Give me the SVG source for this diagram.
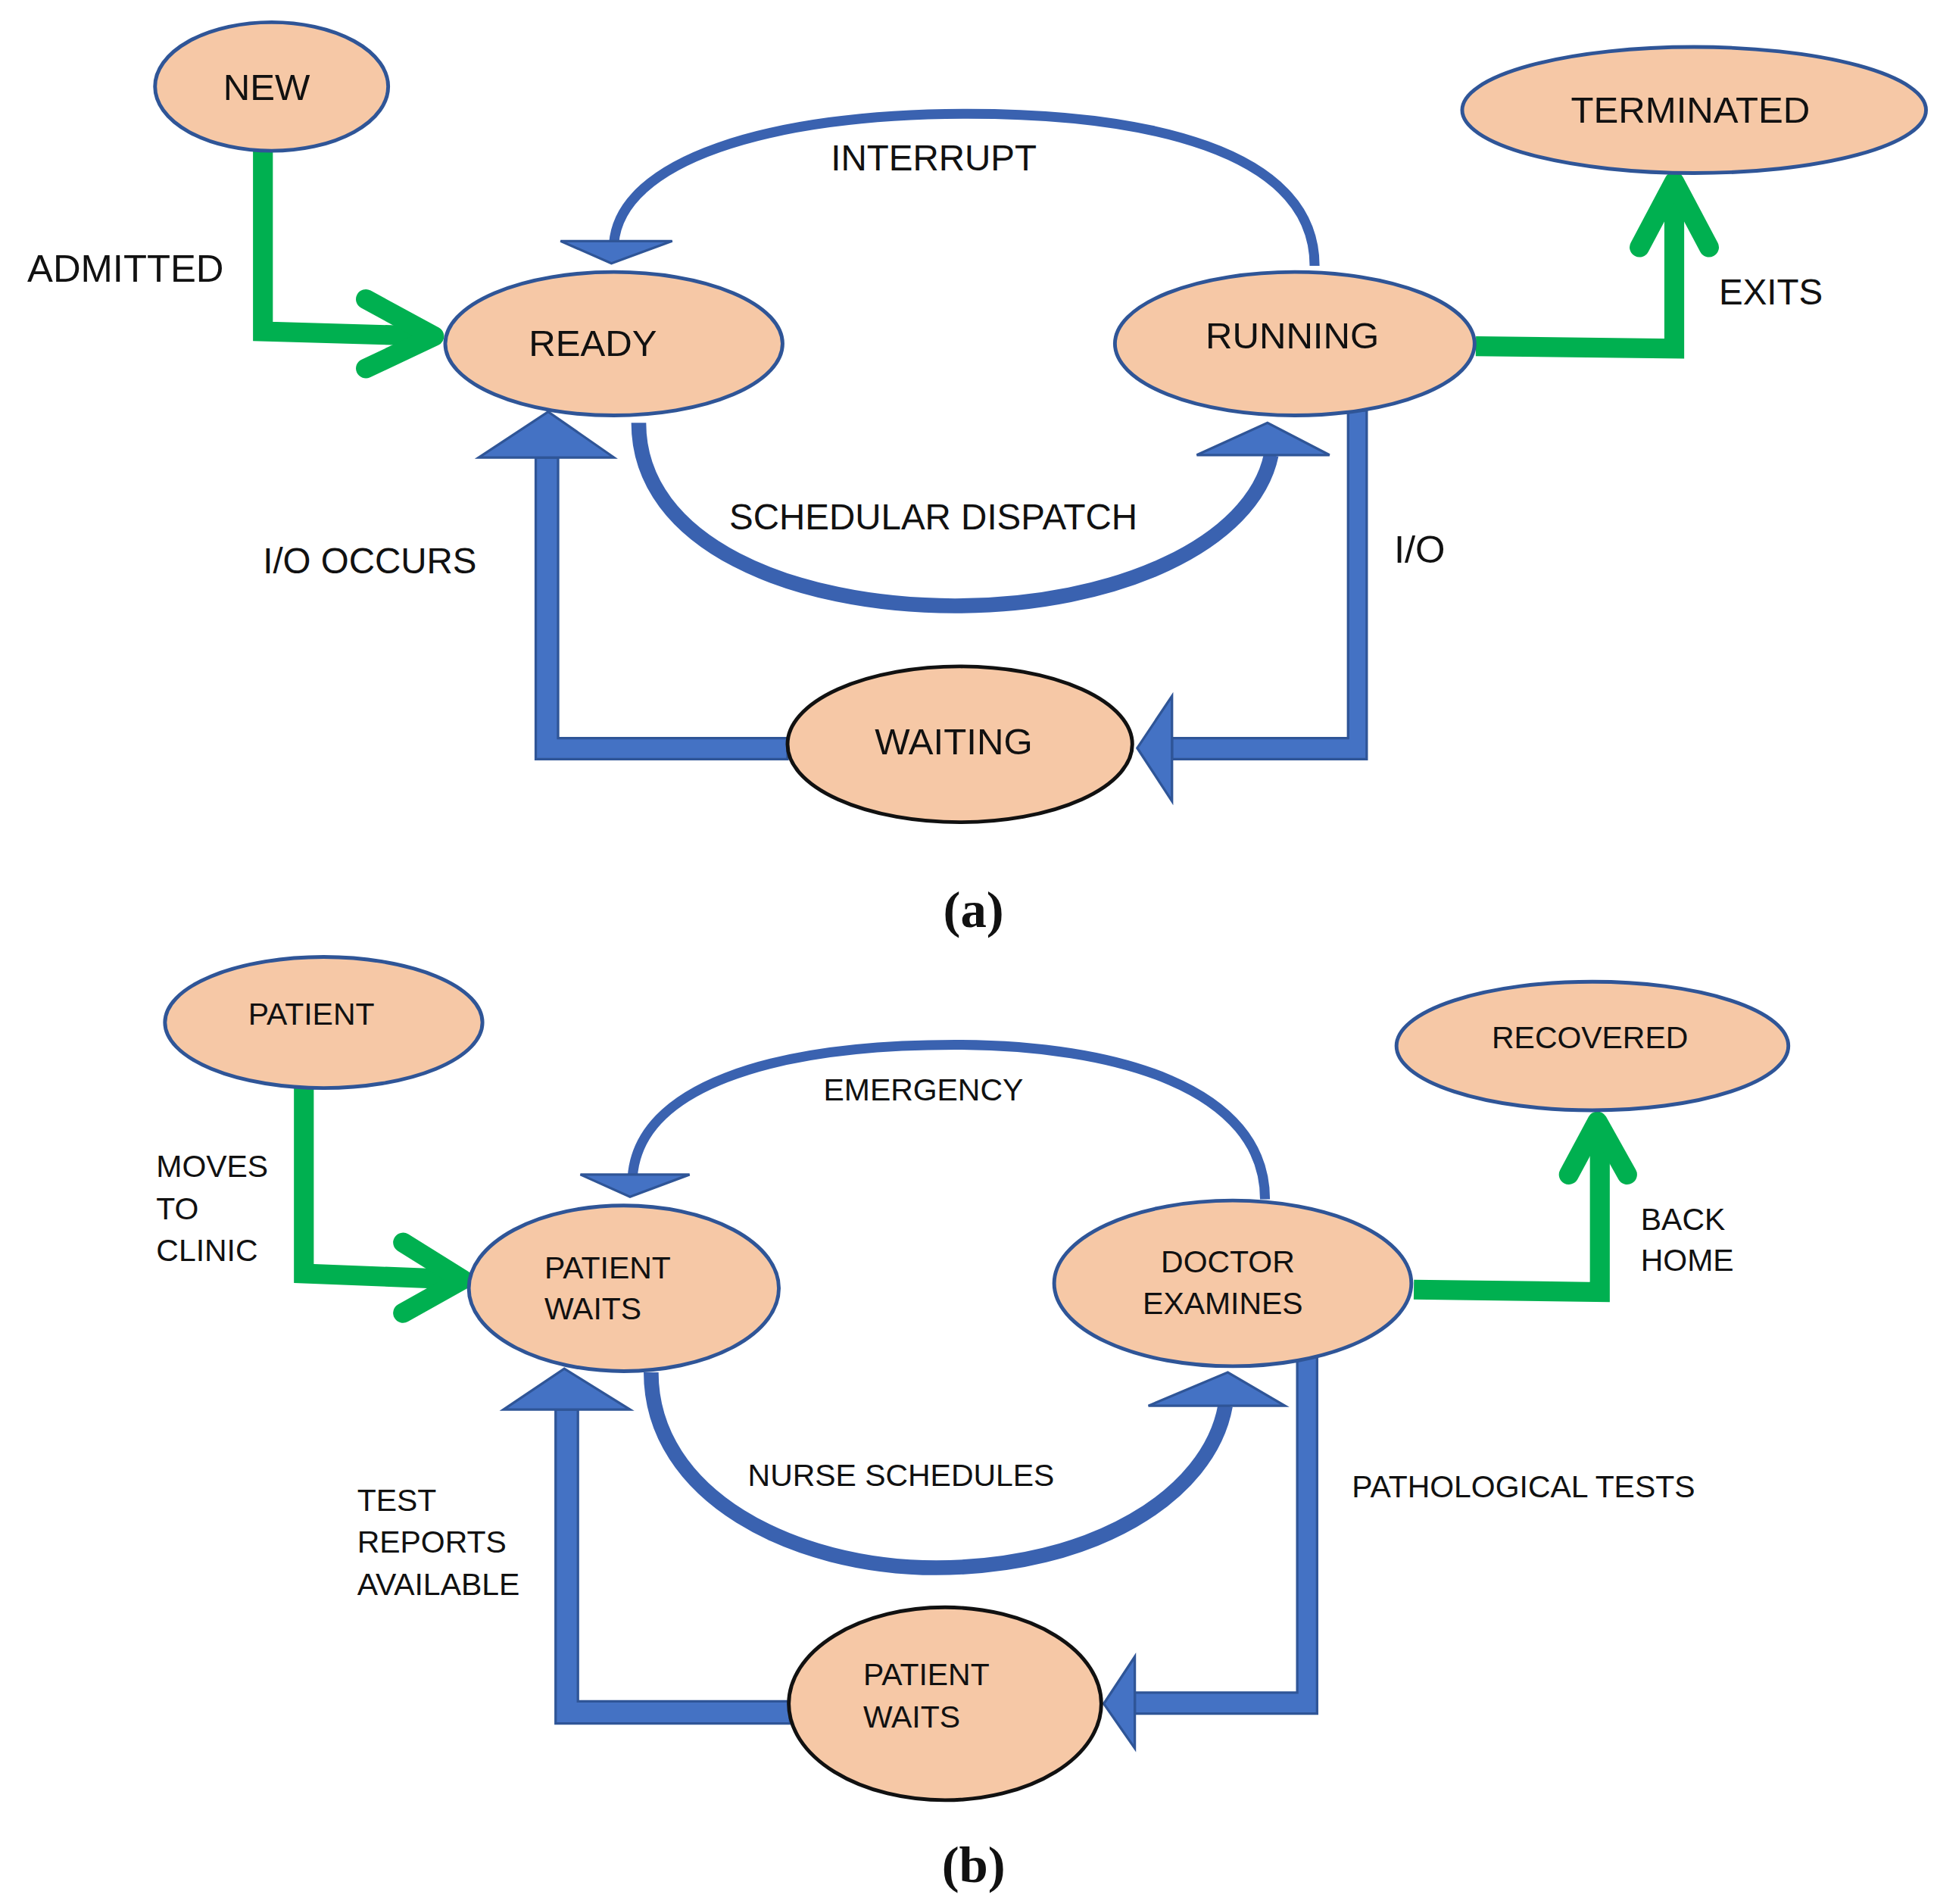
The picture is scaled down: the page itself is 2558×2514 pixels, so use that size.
<svg xmlns="http://www.w3.org/2000/svg" width="2558" height="2514" viewBox="0 0 2558 2514">
<style>
.n{fill:#f6c8a6;stroke:#2f5597;stroke-width:3}
.nb{fill:#f6c8a6;stroke:#111;stroke-width:3}
.t{font-family:"Liberation Sans",Arial,sans-serif;fill:#111}
.g{fill:none;stroke:#00b050;stroke-width:16}
.b{fill:#4472c4;stroke:#2f5597;stroke-width:2}
.bl{fill:none;stroke:#3a62b0}
.cap{font-family:"Liberation Serif","Times New Roman",serif;font-weight:bold;font-size:42px;fill:#111}
</style>
<rect width="2558" height="2514" fill="#fff"/>
<g transform="scale(1.6378,1.6325)">
<g id="connectors">
<!-- (a) -->
<path class="g" d="M212,122 V268 L350,272"/>
<path class="g" stroke-linecap="round" stroke-linejoin="round" d="M295,242 L350,272 L295,298"/>
<path class="bl" stroke-width="8" d="M1060,215 C1060,120 920,92 780,92 C620,92 500,130 495,197"/>
<polygon class="b" points="452,195 542,195 493,213"/>
<path class="bl" stroke-width="12" d="M515,342 C515,440 640,490 770,490 C900,490 1010,440 1025,368"/>
<polygon class="b" points="965,368 1072,368 1022,342"/>
<path class="b" d="M635,597 H450 V370 H432 V614 H635 Z"/>
<polygon class="b" points="386,370 495,370 442,333"/>
<path class="b" d="M1087,332 H1102 V614 H945 V597 H1087 Z"/>
<polygon class="b" points="945,563 945,648 917,605"/>
<path class="g" d="M1190,280 L1350,282 V150"/>
<path class="g" stroke-linecap="round" stroke-linejoin="round" d="M1322,200 L1350,147 L1378,200"/>
<!-- (b) -->
<path class="g" d="M245,880 V1030 L372,1035"/>
<path class="g" stroke-linecap="round" stroke-linejoin="round" d="M325,1005 L373,1035 L325,1062"/>
<path class="bl" stroke-width="8" d="M1020,970 C1020,880 900,845 770,845 C620,845 515,880 510,952"/>
<polygon class="b" points="468,950 556,950 508,968"/>
<path class="bl" stroke-width="12" d="M525,1110 C525,1210 640,1268 755,1268 C880,1268 975,1210 988,1137"/>
<polygon class="b" points="926,1137 1036,1137 990,1110"/>
<path class="b" d="M637,1376 H466 V1140 H448 V1394 H637 Z"/>
<polygon class="b" points="406,1140 508,1140 455,1107"/>
<path class="b" d="M1046,1098 H1062 V1386 H915 V1369 H1046 Z"/>
<polygon class="b" points="915,1340 915,1414 890,1378"/>
<path class="g" d="M1140,1043 L1290,1045 V912"/>
<path class="g" stroke-linecap="round" stroke-linejoin="round" d="M1265,950 L1288,907 L1312,950"/>
</g>
<g id="labels" class="t">
<text class="t" x="22" y="228" font-size="31">ADMITTED</text>
<text class="t" x="670" y="138" font-size="29">INTERRUPT</text>
<text class="t" x="588" y="428" font-size="29">SCHEDULAR DISPATCH</text>
<text class="t" x="212" y="464" font-size="29">I/O OCCURS</text>
<text class="t" x="1124" y="455" font-size="31">I/O</text>
<text class="t" x="1386" y="246" font-size="29">EXITS</text>
<text class="t" x="126" y="952" font-size="25">MOVES</text>
<text class="t" x="126" y="986" font-size="25">TO</text>
<text class="t" x="126" y="1020" font-size="25">CLINIC</text>
<text class="t" x="664" y="890" font-size="25">EMERGENCY</text>
<text class="t" x="603" y="1202" font-size="25">NURSE SCHEDULES</text>
<text class="t" x="288" y="1222" font-size="25">TEST</text>
<text class="t" x="288" y="1256" font-size="25">REPORTS</text>
<text class="t" x="288" y="1290" font-size="25">AVAILABLE</text>
<text class="t" x="1090" y="1211" font-size="25">PATHOLOGICAL TESTS</text>
<text class="t" x="1323" y="995" font-size="25">BACK</text>
<text class="t" x="1323" y="1028" font-size="25">HOME</text>
<text class="cap" x="785" y="750" text-anchor="middle">(a)</text>
<text class="cap" x="785" y="1522" text-anchor="middle">(b)</text>
</g>
<g id="new"><ellipse class="n" cx="219" cy="70" rx="94" ry="52"/><text class="t" x="215" y="81" font-size="30" text-anchor="middle">NEW</text></g>
<g id="terminated"><ellipse class="n" cx="1366" cy="89" rx="187" ry="51"/><text class="t" x="1363" y="99" font-size="30" text-anchor="middle">TERMINATED</text></g>
<g id="ready"><ellipse class="n" cx="495" cy="278" rx="136" ry="58"/><text class="t" x="478" y="288" font-size="30" text-anchor="middle">READY</text></g>
<g id="running"><ellipse class="n" cx="1044" cy="278" rx="145" ry="58"/><text class="t" x="1042" y="282" font-size="30" text-anchor="middle">RUNNING</text></g>
<g id="waiting"><ellipse class="nb" cx="774" cy="602" rx="139" ry="63"/><text class="t" x="769" y="610" font-size="30" text-anchor="middle">WAITING</text></g>
<g id="patient"><ellipse class="n" cx="261" cy="827" rx="128" ry="53"/><text class="t" x="251" y="829" font-size="25" text-anchor="middle">PATIENT</text></g>
<g id="recovered"><ellipse class="n" cx="1284" cy="846" rx="158" ry="52"/><text class="t" x="1282" y="848" font-size="25" text-anchor="middle">RECOVERED</text></g>
<g id="patient-waits-1"><ellipse class="n" cx="503" cy="1042" rx="125" ry="67"/><text class="t" x="439" y="1034" font-size="25">PATIENT</text><text class="t" x="439" y="1067" font-size="25">WAITS</text></g>
<g id="doctor-examines"><ellipse class="n" cx="994" cy="1038" rx="144" ry="67"/><text class="t" x="990" y="1029" font-size="25" text-anchor="middle">DOCTOR</text><text class="t" x="986" y="1063" font-size="25" text-anchor="middle">EXAMINES</text></g>
<g id="patient-waits-2"><ellipse class="nb" cx="762" cy="1378" rx="126" ry="78"/><text class="t" x="696" y="1363" font-size="25">PATIENT</text><text class="t" x="696" y="1397" font-size="25">WAITS</text></g>
</g>
</svg>
